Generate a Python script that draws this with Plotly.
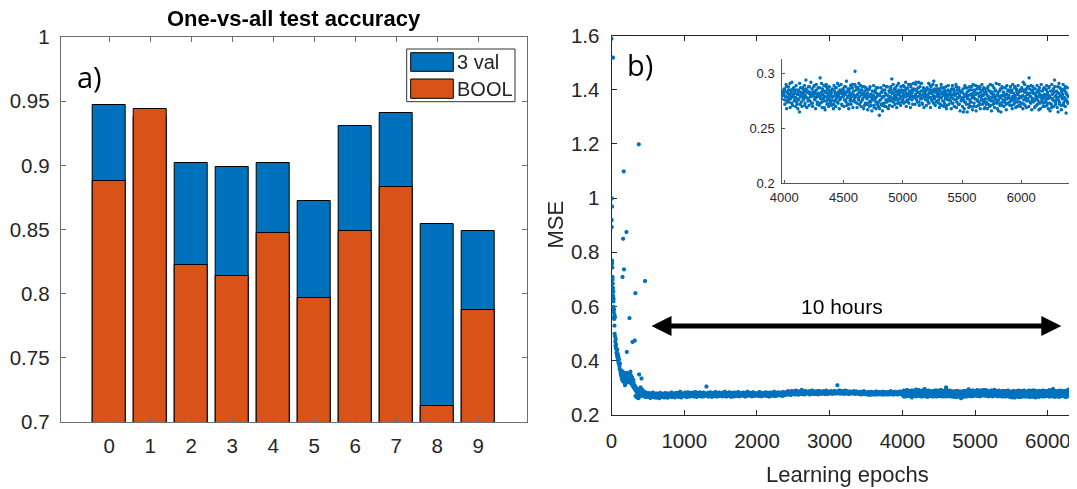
import plotly.graph_objects as go

# ---------------- data ----------------
digits = [0, 1, 2, 3, 4, 5, 6, 7, 8, 9]
digit_labels = ['0', '1', '2', '3', '4', '5', '6', '7', '8', '9']
acc_3val = [0.947, 0.938, 0.902, 0.899, 0.902, 0.872, 0.931, 0.9405, 0.854, 0.849]
acc_bool = [0.888, 0.944, 0.822, 0.814, 0.8476, 0.797, 0.8486, 0.883, 0.7125, 0.787]
acc_ticks = [0.7, 0.75, 0.8, 0.85, 0.9, 0.95, 1.0]
acc_tick_text = ['0.7', '0.75', '0.8', '0.85', '0.9', '0.95', '1']

# early training (epochs 0-400) and isolated outliers
early_epochs = [0, 20, 5, 6, 3, 4,
                8, 10, 11, 14, 15, 17, 19, 21, 22, 24, 26, 27, 29, 31, 33, 35, 37, 40, 42, 44, 47, 50,
                52, 55, 58, 61, 64, 68, 72, 75, 79, 83, 87, 91, 95, 99, 104, 108, 112, 117, 122, 127,
                132, 137, 142, 147, 152, 157, 162, 168, 173, 178, 184, 190, 196, 202, 208, 214, 220,
                226, 232, 238, 244, 250, 256, 262, 268, 274, 280, 286, 292, 298, 304, 310, 316, 322,
                328, 334, 340, 346, 352, 358, 364, 370, 376, 382, 388, 394,
                155, 185, 200, 230, 260, 270, 300, 330, 350, 370, 390,
                168, 375, 160, 205, 171, 152, 247, 328, 460, 290, 320, 210, 413, 380]
early_mse = [1.59, 1.52, 1.00, 0.97, 0.92, 0.894,
             0.77, 0.76, 0.745, 0.71, 0.70, 0.685, 0.67, 0.66, 0.64, 0.655, 0.62, 0.60, 0.63, 0.58,
             0.56, 0.59, 0.555, 0.53, 0.57, 0.50, 0.56, 0.49,
             0.47, 0.455, 0.48, 0.445, 0.46, 0.43, 0.445, 0.42, 0.44, 0.41, 0.425, 0.40, 0.415, 0.39,
             0.405, 0.38, 0.37, 0.39, 0.36, 0.35,
             0.365, 0.34, 0.355, 0.33, 0.345, 0.325, 0.34, 0.33, 0.35, 0.32, 0.335, 0.345, 0.325,
             0.34, 0.33, 0.355, 0.32, 0.34, 0.33, 0.345, 0.325, 0.335, 0.35, 0.32, 0.33, 0.315,
             0.34, 0.31, 0.325, 0.305, 0.32, 0.30, 0.31, 0.295,
             0.305, 0.29, 0.30, 0.285, 0.295, 0.28, 0.29, 0.275, 0.285, 0.27, 0.28, 0.275,
             0.36, 0.31, 0.355, 0.35, 0.36, 0.345, 0.33, 0.27, 0.265, 0.262, 0.268,
             1.10, 1.20, 0.851, 0.876, 0.738, 0.71, 0.558, 0.65, 0.695, 0.47, 0.475, 0.433, 0.335, 0.35]

# plateau, one value every 5 epochs from 400 to 6400 (MSE x 1000)
band_start = 400
band_step = 5
band_mse_milli = [
    302, 289, 296, 284, 279, 293, 276, 281, 270, 286, 274, 268, 279, 284, 272, 266, 277, 282, 270, 275,
    271, 278, 266, 274, 281, 269, 275, 263, 277, 272, 280, 268, 274, 270, 283, 267, 276, 273, 265, 279,
    274, 269, 277, 264, 272, 280, 270, 275, 267, 278, 273, 262, 276, 271, 282, 268, 274, 277, 270, 266,
    276, 271, 268, 279, 273, 265, 277, 270, 281, 274, 267, 275, 272, 278, 264, 273, 280, 269, 276, 271,
    273, 279, 268, 275, 270, 283, 266, 274, 277, 271, 269, 280, 272, 276, 265, 278, 273, 270, 282, 275,
    270, 276, 272, 281, 267, 275, 278, 269, 274, 286, 271, 277, 265, 273, 279, 268, 276, 272, 280, 274,
    277, 272, 283, 269, 276, 280, 273, 266, 278, 275, 284, 270, 277, 273, 279, 268, 275, 282, 271, 276,
    274, 280, 270, 277, 283, 272, 276, 268, 279, 275, 271, 285, 274, 278, 267, 276, 281, 273, 277, 270,
    279, 273, 276, 284, 270, 277, 274, 281, 268, 276, 279, 272, 275, 283, 269, 277, 273, 280, 274, 278,
    276, 305, 271, 279, 274, 282, 268, 277, 275, 280, 272, 276, 284, 270, 278, 273, 267, 279, 275, 281,
    273, 278, 282, 270, 276, 274, 285, 271, 277, 279, 268, 275, 281, 273, 277, 270, 283, 276, 272, 279,
    277, 271, 280, 275, 269, 278, 283, 273, 276, 270, 279, 274, 286, 272, 277, 275, 268, 281, 276, 273,
    275, 281, 272, 277, 284, 270, 276, 279, 273, 267, 278, 275, 282, 271, 276, 280, 274, 269, 277, 283,
    278, 273, 276, 270, 281, 275, 279, 272, 285, 274, 277, 269, 276, 280, 273, 278, 271, 282, 275, 277,
    272, 279, 275, 283, 270, 277, 274, 280, 268, 276, 281, 273, 278, 271, 286, 275, 277, 272, 279, 274,
    276, 282, 271, 278, 274, 280, 269, 277, 275, 284, 272, 278, 276, 270, 281, 274, 279, 273, 277, 275,
    278, 273, 281, 276, 270, 279, 275, 285, 272, 277, 280, 274, 269, 278, 276, 282, 271, 277, 275, 279,
    275, 280, 272, 278, 284, 274, 277, 270, 279, 276, 282, 273, 278, 275, 268, 280, 276, 283, 272, 277,
    279, 274, 277, 282, 271, 278, 275, 286, 273, 279, 276, 270, 281, 277, 274, 280, 272, 278, 284, 275,
    277, 281, 274, 279, 276, 272, 283, 278, 275, 280, 270, 277, 285, 274, 279, 276, 281, 273, 278, 282,
    281, 285, 278, 283, 276, 288, 280, 284, 275, 282, 279, 287, 281, 274, 284, 280, 289, 277, 283, 279,
    284, 278, 286, 281, 276, 283, 290, 280, 285, 277, 282, 279, 288, 283, 275, 281, 286, 280, 284, 278,
    280, 286, 282, 293, 277, 284, 281, 287, 279, 283, 276, 285, 282, 289, 280, 278, 284, 281, 286, 283,
    283, 279, 285, 281, 288, 276, 282, 286, 280, 284, 278, 283, 290, 281, 285, 279, 282, 287, 277, 284,
    281, 287, 283, 278, 285, 280, 284, 289, 282, 276, 283, 286, 281, 279, 288, 284, 280, 283, 285, 278,
    285, 280, 283, 288, 279, 284, 281, 286, 277, 283, 290, 282, 285, 280, 284, 278, 287, 282, 281, 286,
    282, 286, 279, 284, 288, 281, 285, 278, 283, 287, 280, 284, 282, 289, 279, 285, 283, 281, 286, 280,
    284, 310, 288, 283, 286, 280, 284, 291, 282, 285, 279, 287, 283, 280, 286, 282, 289, 281, 284, 278,
    281, 285, 290, 283, 279, 286, 282, 284, 288, 280, 285, 283, 277, 286, 281, 284, 287, 282, 279, 285,
    283, 280, 286, 282, 285, 279, 284, 288, 281, 283, 286, 278, 284, 282, 287, 280, 283, 285, 281, 279,
    280, 284, 277, 282, 279, 286, 281, 276, 283, 280, 285, 278, 282, 279, 288, 281, 277, 284, 280, 283,
    278, 283, 280, 276, 285, 279, 282, 277, 284, 280, 274, 283, 279, 286, 281, 278, 282, 276, 284, 280,
    281, 277, 284, 279, 282, 275, 283, 280, 287, 278, 281, 284, 276, 280, 283, 279, 285, 277, 281, 282,
    279, 284, 276, 281, 278, 286, 280, 283, 275, 282, 279, 285, 281, 277, 283, 280, 278, 284, 276, 281,
    282, 278, 285, 280, 276, 283, 279, 281, 288, 277, 282, 280, 284, 278, 281, 275, 283, 279, 286, 280,
    280, 283, 277, 282, 279, 285, 281, 276, 284, 280, 278, 283, 281, 287, 279, 282, 277, 284, 280, 283,
    281, 276, 284, 279, 288, 274, 282, 278, 285, 280, 291, 277, 283, 273, 281, 286, 279, 284, 276, 282,
    278, 285, 272, 281, 276, 283, 265, 280, 287, 274, 282, 279, 286, 277, 284, 271, 280, 294, 278, 283,
    284, 277, 282, 288, 275, 281, 279, 286, 273, 283, 280, 289, 276, 282, 278, 285, 272, 281, 287, 279,
    280, 296, 277, 283, 274, 286, 281, 278, 269, 284, 279, 288, 275, 282, 277, 285, 280, 273, 283, 279,
    282, 276, 285, 279, 272, 284, 280, 287, 277, 281, 274, 283, 279, 289, 276, 282, 278, 285, 271, 281,
    279, 284, 276, 281, 288, 274, 283, 278, 285, 272, 280, 286, 277, 282, 279, 290, 275, 281, 284, 278,
    302, 279, 285, 273, 281, 287, 276, 283, 279, 285, 274, 281, 288, 277, 282, 279, 271, 284, 280, 286,
    277, 282, 273, 279, 286, 275, 281, 271, 278, 284, 276, 280, 269, 283, 277, 274, 287, 279, 272, 281,
    274, 262, 280, 276, 283, 271, 278, 285, 273, 279, 270, 282, 276, 288, 274, 280, 268, 277, 283, 275,
    279, 284, 295, 277, 282, 274, 286, 280, 276, 283, 278, 289, 273, 281, 285, 277, 282, 271, 284, 279,
    283, 277, 281, 288, 274, 285, 279, 282, 276, 287, 280, 273, 284, 278, 290, 281, 276, 283, 279, 286,
    278, 285, 281, 292, 276, 283, 279, 287, 274, 282, 280, 291, 277, 284, 272, 281, 286, 278, 283, 280,
    284, 279, 276, 286, 281, 273, 283, 289, 278, 282, 275, 285, 280, 293, 277, 283, 279, 274, 286, 281,
    279, 276, 284, 281, 272, 287, 278, 283, 275, 280, 286, 273, 282, 277, 284, 271, 279, 285, 276, 281,
    282, 275, 279, 286, 273, 281, 277, 284, 270, 280, 276, 288, 274, 282, 278, 285, 272, 279, 283, 276,
    276, 283, 278, 265, 281, 274, 287, 279, 272, 283, 277, 280, 269, 285, 276, 281, 274, 288, 278, 282,
    279, 273, 284, 277, 281, 270, 286, 276, 282, 274, 279, 288, 272, 280, 277, 285, 275, 281, 268, 283,
    277, 283, 274, 280, 286, 272, 279, 276, 284, 271, 282, 278, 289, 275, 281, 273, 278, 285, 276, 280,
    275, 281, 266, 279, 284, 273, 278, 286, 271, 280, 276, 283, 274, 279, 287, 272, 281, 277, 284, 278,
    280, 274, 283, 277, 271, 285, 279, 276, 282, 273, 288, 278, 275, 284, 270, 281, 277, 283, 274, 279,
    278, 284, 273, 280, 292, 276, 283, 271, 279, 286, 275, 281, 277, 288, 296, 282, 274, 279, 285, 276,
    277, 282, 275, 286, 270, 280, 276, 283, 272, 279, 285, 274, 281, 268, 278, 284, 276, 280, 273, 287,
    281, 274, 279, 285, 271, 283, 277, 280, 288, 273, 278, 284, 269, 281, 276, 286, 275, 294, 279, 272,
    276, 283, 278, 265, 282, 274, 287, 279, 271, 284, 277, 281, 273, 286, 278, 270, 283, 276, 281, 274,
    279,
]
# intermediate epochs in the zoomed window 4002..6397 (MSE x 1000)
band2_start = 4002
band2_mse_milli = [
    286, 272, 279, 290, 268, 283, 276, 288, 274, 281, 269, 285, 278, 292, 271, 280, 287, 275, 283, 270,
    289, 274, 281, 268, 285, 277, 291, 272, 283, 279, 270, 287, 276, 282, 289, 273, 279, 286, 269, 284,
    275, 288, 271, 283, 279, 292, 273, 286, 270, 281, 288, 277, 284, 268, 290, 279, 274, 287, 282, 271,
    287, 273, 280, 291, 269, 284, 277, 289, 275, 267, 283, 290, 272, 286, 279, 270, 288, 276, 284, 274,
    271, 286, 279, 268, 289, 275, 282, 270, 287, 278, 291, 273, 281, 268, 285, 277, 290, 272, 283, 286,
    285, 270, 288, 276, 282, 293, 271, 279, 286, 268, 283, 275, 289, 272, 281, 287, 269, 284, 276, 290,
    274, 288, 280, 269, 286, 277, 291, 272, 283, 289, 270, 285, 276, 282, 268, 288, 279, 273, 287, 281,
    272, 267, 285, 279, 270, 288, 274, 281, 266, 284, 276, 289, 271, 278, 285, 268, 282, 274, 287, 270,
    281, 268, 276, 287, 272, 283, 266, 279, 289, 273, 285, 270, 281, 275, 288, 269, 277, 284, 271, 286,
    288, 275, 282, 270, 290, 278, 285, 272, 287, 280, 269, 284, 276, 291, 273, 283, 279, 288, 274, 285,
    276, 289, 273, 284, 279, 292, 270, 286, 281, 274, 290, 277, 283, 269, 288, 280, 285, 272, 291, 278,
    285, 272, 290, 279, 286, 274, 283, 292, 271, 288, 277, 284, 291, 273, 280, 287, 269, 285, 282, 276,
    271, 287, 280, 274, 291, 278, 285, 269, 288, 276, 283, 290, 273, 279, 286, 271, 284, 289, 275, 282,
    286, 273, 269, 285, 278, 290, 271, 282, 287, 275, 270, 284, 279, 288, 268, 281, 276, 289, 272, 284,
    277, 284, 268, 280, 289, 273, 286, 270, 282, 276, 290, 269, 285, 278, 272, 287, 280, 266, 284, 275,
    283, 270, 286, 276, 268, 289, 274, 281, 287, 265, 279, 284, 272, 288, 275, 270, 285, 279, 267, 290,
    270, 285, 277, 289, 266, 282, 275, 288, 271, 279, 286, 268, 283, 276, 290, 272, 280, 287, 274, 269,
    286, 272, 281, 268, 288, 277, 284, 270, 290, 275, 266, 283, 279, 272, 287, 269, 284, 277, 291, 273,
    268, 283, 276, 290, 271, 286, 265, 280, 288, 274, 283, 270, 287, 276, 281, 267, 289, 273, 285, 279,
    285, 271, 288, 275, 283, 268, 290, 277, 272, 287, 280, 269, 286, 274, 282, 289, 271, 278, 285, 270,
    273, 287, 279, 268, 285, 272, 290, 277, 284, 269, 282, 288, 275, 270, 286, 279, 273, 289, 267, 284,
    288, 274, 282, 269, 286, 278, 271, 289, 276, 283, 267, 287, 273, 280, 290, 275, 284, 270, 286, 278,
    270, 286, 276, 289, 273, 281, 268, 287, 279, 266, 284, 272, 290, 277, 285, 270, 283, 288, 274, 280,
    284, 269, 288, 276, 291, 272, 280, 286, 267, 283, 278, 290, 271, 285, 275, 288, 264, 281, 287, 273,
]
band_epochs = [band_start + band_step * i for i in range(len(band_mse_milli))]
band2_epochs = [band2_start + band_step * i for i in range(len(band2_mse_milli))]
band_mse = [v / 1000 for v in band_mse_milli]
band2_mse = [v / 1000 for v in band2_mse_milli]

mse_ticks = [0.2, 0.4, 0.6, 0.8, 1.0, 1.2, 1.4, 1.6]
mse_tick_text = ['0.2', '0.4', '0.6', '0.8', '1', '1.2', '1.4', '1.6']
epoch_ticks = [0, 1000, 2000, 3000, 4000, 5000, 6000]
inset_x_ticks = [4000, 4500, 5000, 5500, 6000]
inset_y_ticks = [0.2, 0.25, 0.3]
inset_y_text = ['0.2', '0.25', '0.3']
arrow_from, arrow_to, arrow_level = 529, 6184, 0.528

# ---------------- styling ----------------
# the page body has an 8 px margin, so the figure is 8 px smaller and
# reference pixel coordinates are shifted by 8 px
OFF = 8
W, H = 1077 - OFF, 489 - OFF
BLUE = '#0072BD'
ORANGE = '#D95319'
TXT = '#262626'
FONT = 'Liberation Sans, Arial, sans-serif'


def px_x(x):
    return (x - OFF) / W


def px_y(y):
    return 1 - (y - OFF) / H


fig = go.Figure()

fig.add_trace(go.Bar(x=digits, y=acc_3val, name='3 val', width=0.8,
                     marker=dict(color=BLUE, line=dict(color='black', width=1)),
                     xaxis='x', yaxis='y', showlegend=False))
fig.add_trace(go.Bar(x=digits, y=acc_bool, name='BOOL', width=0.8,
                     marker=dict(color=ORANGE, line=dict(color='black', width=1)),
                     xaxis='x', yaxis='y', showlegend=False))

all_epochs = early_epochs + band_epochs + band2_epochs
all_mse = early_mse + band_mse + band2_mse
fig.add_trace(go.Scattergl(x=all_epochs, y=all_mse, mode='markers',
                           marker=dict(color=BLUE, size=4.5, line=dict(width=0)),
                           xaxis='x2', yaxis='y2', showlegend=False))
fig.add_trace(go.Scattergl(x=band_epochs + band2_epochs, y=band_mse + band2_mse, mode='markers',
                           marker=dict(color=BLUE, size=3.5, line=dict(width=0)),
                           xaxis='x3', yaxis='y3', showlegend=False))

LEFT_LINE = '#6e6e6e'
axis_common = dict(showgrid=False, zeroline=False, ticks='inside', ticklen=5,
                   tickfont=dict(family=FONT, size=20.5, color=TXT), showline=True,
                   linewidth=1, mirror='allticks', automargin=False)

fig.update_layout(
    width=W, height=H, margin=dict(l=0, r=0, t=0, b=0),
    paper_bgcolor='white', plot_bgcolor='white', barmode='overlay', bargap=0,
    xaxis=dict(axis_common, domain=[px_x(60.7), px_x(526.7)], range=[-1.18, 10.18],
               tickvals=digits, ticktext=digit_labels, linecolor=LEFT_LINE, tickcolor=LEFT_LINE,
               anchor='y', ticklabelstandoff=5),
    yaxis=dict(axis_common, domain=[px_y(422), px_y(37)], range=[0.7, 1.0],
               tickvals=acc_ticks, ticktext=acc_tick_text, linecolor=LEFT_LINE, tickcolor=LEFT_LINE,
               anchor='x', ticklabelstandoff=6),
    xaxis2=dict(axis_common, domain=[px_x(611.5), 1.0], range=[0, 6400],
                tickvals=epoch_ticks, linecolor=TXT, tickcolor=TXT, anchor='y2',
                ticklabelstandoff=8),
    yaxis2=dict(axis_common, domain=[px_y(414.7), px_y(35.7)], range=[0.2, 1.6],
                tickvals=mse_ticks, ticktext=mse_tick_text, linecolor=TXT, tickcolor=TXT,
                anchor='x2', ticklabelstandoff=7),
    xaxis3=dict(showgrid=False, zeroline=False, ticks='inside', ticklen=3, showline=True,
                linewidth=1, linecolor='#555555', tickcolor='#555555', mirror=False,
                tickfont=dict(family=FONT, size=13, color=TXT), automargin=False,
                domain=[px_x(782.3), 1.0], range=[3983, 6470], tickvals=inset_x_ticks,
                anchor='y3', ticklabelstandoff=2),
    yaxis3=dict(showgrid=False, zeroline=False, ticks='inside', ticklen=3, showline=True,
                linewidth=1, linecolor='#555555', tickcolor='#555555', mirror=False,
                tickfont=dict(family=FONT, size=13, color=TXT), automargin=False,
                domain=[px_y(183.3), px_y(59.3)], range=[0.2, 0.3127],
                tickvals=inset_y_ticks, ticktext=inset_y_text, anchor='x3',
                ticklabelstandoff=4),
)

# legend (drawn manually to match the boxed MATLAB legend)
shapes = [
    dict(type='rect', xref='paper', yref='paper', x0=px_x(406.7), x1=px_x(515),
         y0=px_y(101.7), y1=px_y(49), fillcolor='white', line=dict(color='#333333', width=1)),
    dict(type='rect', xref='paper', yref='paper', x0=px_x(410.7), x1=px_x(453.3),
         y0=px_y(71.3), y1=px_y(52.7), fillcolor=BLUE, line=dict(color='black', width=1)),
    dict(type='rect', xref='paper', yref='paper', x0=px_x(410.7), x1=px_x(453.3),
         y0=px_y(98.3), y1=px_y(79), fillcolor=ORANGE, line=dict(color='black', width=1)),
]
fig.update_layout(shapes=shapes)

ann = []
ann.append(dict(text='3 val', x=px_x(455), y=px_y(62.5), xref='paper', yref='paper',
                xanchor='left', yanchor='middle', showarrow=False,
                font=dict(family=FONT, size=20, color=TXT)))
ann.append(dict(text='BOOL', x=px_x(455), y=px_y(89), xref='paper', yref='paper',
                xanchor='left', yanchor='middle', showarrow=False,
                font=dict(family=FONT, size=20, color=TXT)))
ann.append(dict(text='<b>One-vs-all test accuracy</b>', x=px_x(293.7), y=px_y(18),
                xref='paper', yref='paper', xanchor='center', yanchor='middle', showarrow=False,
                font=dict(family=FONT, size=22, color='black')))
ann.append(dict(text='a)', x=px_x(75), y=px_y(77), xref='paper', yref='paper',
                xanchor='left', yanchor='middle', showarrow=False,
                font=dict(family='Open Sans, sans-serif', size=29, color='black')))
ann.append(dict(text='b)', x=px_x(625), y=px_y(64), xref='paper', yref='paper',
                xanchor='left', yanchor='middle', showarrow=False,
                font=dict(family='Open Sans, sans-serif', size=29, color='black')))
ann.append(dict(text='MSE', x=px_x(555.5), y=px_y(225), xref='paper', yref='paper',
                xanchor='center', yanchor='middle', textangle=-90, showarrow=False,
                font=dict(family=FONT, size=22, color=TXT)))
ann.append(dict(text='Learning epochs', x=px_x(847), y=px_y(474), xref='paper', yref='paper',
                xanchor='center', yanchor='middle', showarrow=False,
                font=dict(family=FONT, size=22, color=TXT)))
ann.append(dict(text='10 hours', x=px_x(842), y=px_y(306), xref='paper', yref='paper',
                xanchor='center', yanchor='middle', showarrow=False,
                font=dict(family=FONT, size=21, color='black')))
ann.append(dict(text='', x=arrow_to, y=arrow_level, ax=arrow_from, ay=arrow_level,
                xref='x2', yref='y2', axref='x2', ayref='y2', showarrow=True,
                arrowhead=2, arrowside='end+start', arrowwidth=5, arrowsize=0.8,
                arrowcolor='black', standoff=0, startstandoff=0))
fig.update_layout(annotations=ann)

fig.write_html('out.html')
